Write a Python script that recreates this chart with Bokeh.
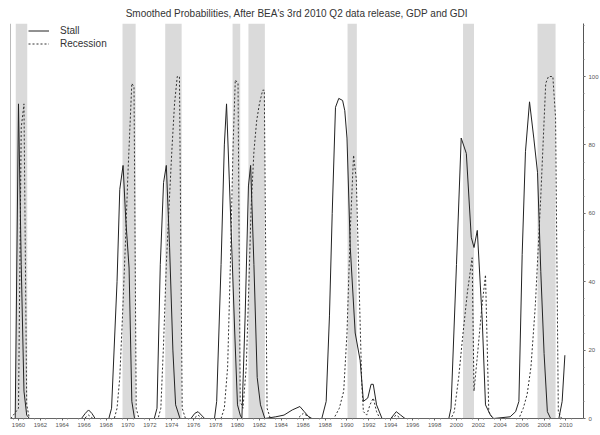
from bokeh.plotting import figure
from bokeh.models import (Range1d, LinearAxis, FixedTicker, CustomJSTickFormatter,
                          Legend, LegendItem, Label, Span, ColumnDataSource)
from bokeh.embed import file_html
from bokeh.resources import INLINE

TITLE = "Smoothed Probabilities, After BEA's 3rd 2010 Q2 data release, GDP and GDI"

# Stall probability (percent), vertices
stall_t = [1959.8, 1960.2, 1960.5, 1960.75, 1961.0, 1961.25, 1961.5,
           1966.25, 1966.6, 1966.9, 1967.2, 1967.5,
           1968.75, 1969.0, 1969.5, 1969.75, 1970.05, 1970.3, 1970.6, 1970.85, 1971.1,
           1972.9, 1973.15, 1973.45, 1973.75, 1974.0, 1974.3, 1974.6, 1974.85, 1975.25,
           1976.25, 1976.6, 1976.9, 1977.2, 1977.5,
           1978.4, 1978.6, 1979.0, 1979.3, 1979.5, 1979.75, 1980.0, 1980.25, 1980.5, 1980.75, 1980.9,
           1981.2, 1981.5, 1981.7, 1982.0, 1982.3, 1982.6, 1983.0,
           1984.0, 1984.75, 1985.5, 1986.2, 1986.6, 1987.0, 1987.3,
           1988.2, 1988.6, 1988.9, 1989.15, 1989.45, 1989.75, 1990.1, 1990.3, 1990.5, 1990.8,
           1991.25, 1991.7, 1992.0, 1992.4, 1992.7, 1992.9, 1993.2, 1993.7,
           1994.5, 1995.0, 1995.4, 1995.8,
           1999.8, 2000.0, 2000.5, 2000.93, 2001.4, 2001.85, 2002.1, 2002.4, 2002.85, 2003.15,
           2003.6, 2003.9, 2005.4, 2005.9, 2006.2, 2006.5, 2006.8, 2007.17, 2007.56, 2007.9,
           2008.2, 2008.5, 2008.8, 2009.1, 2009.85, 2010.15, 2010.4]
stall_v = [0, 0, 92, 45, 8, 1, 0,
           0, 1.5, 2.5, 1.5, 0,
           0, 3, 40, 67, 74, 58, 44, 5, 0,
           0, 3, 45, 69, 74, 50, 20, 4, 0,
           0, 1.5, 2, 1, 0,
           0, 5, 45, 80, 92, 70, 48, 25, 4, 1, 0,
           30, 68, 74, 45, 12, 4, 0,
           0.5, 1, 2.5, 3.5, 2, 0.5, 0,
           0, 5, 30, 60, 91, 93.6, 93, 90, 82, 50,
           25, 17, 5, 6, 10, 10, 4, 0,
           0, 2, 1, 0,
           0, 3, 45, 82, 77.5, 53, 50, 55, 29, 4,
           1, 0, 0.5, 2, 5, 48, 78, 92.6, 82, 72,
           43, 19, 2, 0, 0, 5, 18.5]

# Recession probability (percent)
rec_t = [1959.8, 1960.5, 1960.75, 1961.0, 1961.25, 1961.5,
         1966.5, 1966.9, 1967.3,
         1969.25, 1969.5, 1969.75, 1970.0, 1970.25, 1970.5, 1970.85, 1971.05, 1971.25, 1971.5,
         1973.25, 1973.5, 1973.75, 1974.0, 1974.25, 1974.5, 1974.75, 1975.0, 1975.2, 1975.45, 1975.75,
         1976.5, 1976.9, 1977.3,
         1979.0, 1979.3, 1979.6, 1979.85, 1980.1, 1980.3, 1980.55, 1980.75, 1981.0, 1981.3,
         1981.5, 1981.75, 1982.0, 1982.25, 1982.5, 1982.8, 1982.95, 1983.2, 1983.5,
         1986.0, 1986.5, 1987.0, 1987.3,
         1989.3, 1989.8, 1990.2, 1990.5, 1990.8, 1991.1, 1991.35, 1991.6, 1991.85, 1992.0,
         1992.3, 1992.6, 1992.9, 1993.2, 1993.5,
         1994.6, 1995.0, 1995.4,
         2000.0, 2000.3, 2000.7, 2001.1, 2001.5, 2001.93, 2002.1, 2002.4, 2002.8, 2003.15,
         2003.45, 2003.8,
         2006.2, 2006.6, 2006.95, 2007.3, 2007.7, 2008.2, 2008.65, 2008.9, 2009.3, 2009.55,
         2009.8, 2010.1, 2010.4]
rec_v = [0, 3, 85, 92, 4, 0,
         0, 1, 0,
         0, 3, 12, 30, 50, 72, 98, 97, 3, 0,
         0, 3, 22, 45, 62, 78, 92, 100, 100, 3, 0,
         0, 1, 0,
         0, 3, 15, 45, 80, 99, 98, 5, 3, 15,
         35, 62, 78, 87, 92, 96, 96, 3, 0,
         0, 1.5, 0.5, 0,
         0, 3, 8, 25, 55, 77, 70, 40, 10, 2,
         1, 4, 6, 2, 0,
         0, 1, 0,
         0, 2, 12, 25, 37, 47, 8, 18, 32, 42,
         2, 0,
         0, 3, 7, 15, 33, 65, 98, 100, 100, 88,
         2, 0, 0]

# Shaded recession periods (decimal years)
shade_start = [1960.25, 1970.0, 1973.9, 1980.05, 1981.5, 1990.55, 2001.1, 2007.9]
shade_end = [1961.3, 1971.2, 1975.4, 1980.75, 1983.0, 1991.4, 2002.1, 2009.55]

x_ticks = [1960.5 + 2 * i for i in range(26)]
y_ticks = [0, 20, 40, 60, 80, 100]

X0, X1 = 1959.77, 2012.1
Y0, Y1 = 0, 115.5

p = figure(frame_width=573, frame_height=395, output_backend="svg", toolbar_location=None,
           x_range=Range1d(X0, X1), y_range=Range1d(Y0, Y1),
           min_border_left=10, min_border_right=0, min_border_top=0, min_border_bottom=0,
           y_axis_location=None)
p.title.text = TITLE
p.title.align = "center"
p.title.text_font = "Liberation Sans"
p.title.text_font_size = "10px"
p.title.text_font_style = "normal"
p.title.text_color = "#333333"
p.title.standoff = 10
p.grid.visible = False
p.outline_line_color = None
p.background_fill_color = "white"

# shading
p.quad(left=shade_start, right=shade_end, bottom=Y0, top=Y1,
       fill_color="#dadada", line_color=None)

src_s = ColumnDataSource(dict(t=stall_t, v=stall_v))
src_r = ColumnDataSource(dict(t=rec_t, v=rec_v))
r_rec = p.line("t", "v", source=src_r, line_color="#333333", line_width=1, line_dash="2 2")
r_stall = p.line("t", "v", source=src_s, line_color="#222222", line_width=1)

# x axis
xa = p.xaxis[0]
xa.ticker = FixedTicker(ticks=x_ticks, minor_ticks=[1960 + i for i in range(52)])
xa.formatter = CustomJSTickFormatter(code="return String(Math.floor(tick));")
xa.major_label_text_font_size = "6px"
xa.major_label_text_font = "Liberation Sans"
xa.major_label_text_color = "#555555"
xa.major_label_standoff = 2
xa.major_tick_out = 2
xa.major_tick_in = 0
xa.minor_tick_out = 1
xa.minor_tick_in = 0
xa.axis_line_color = "#666666"
xa.major_tick_line_color = "#666666"
xa.minor_tick_line_color = "#888888"

# right axis
ya = LinearAxis(ticker=FixedTicker(ticks=y_ticks, minor_ticks=[i * 5 for i in range(24)]))
ya.major_label_text_font_size = "6px"
ya.major_label_text_font = "Liberation Sans"
ya.major_label_text_color = "#555555"
ya.major_label_standoff = 3
ya.major_tick_out = 2
ya.major_tick_in = 0
ya.minor_tick_out = 1
ya.minor_tick_in = 0
ya.axis_line_color = "#555555"
ya.major_tick_line_color = "#555555"
ya.minor_tick_line_color = "#888888"
p.add_layout(ya, "right")

# left frame border
p.add_layout(Span(location=X0, dimension="height", line_color="#777777", line_width=1))

p.add_layout(Label(x=X1, y=Y1, text="Percent", text_font="Liberation Sans",
                   text_font_size="6px", text_color="#555555", text_align="center",
                   text_baseline="bottom", x_offset=-12, y_offset=2))

legend = Legend(items=[LegendItem(label="Stall", renderers=[r_stall]),
                       LegendItem(label="Recession", renderers=[r_rec])],
                location=(18, 395 - 1 - 26), padding=0, margin=0, spacing=0,
                glyph_width=21, glyph_height=13, label_height=13, label_standoff=11,
                label_text_font="Liberation Sans", label_text_font_size="10px",
                label_text_color="#333333", background_fill_alpha=0,
                border_line_color=None)
p.add_layout(legend)

open("out.html", "w").write(file_html(p, INLINE))
